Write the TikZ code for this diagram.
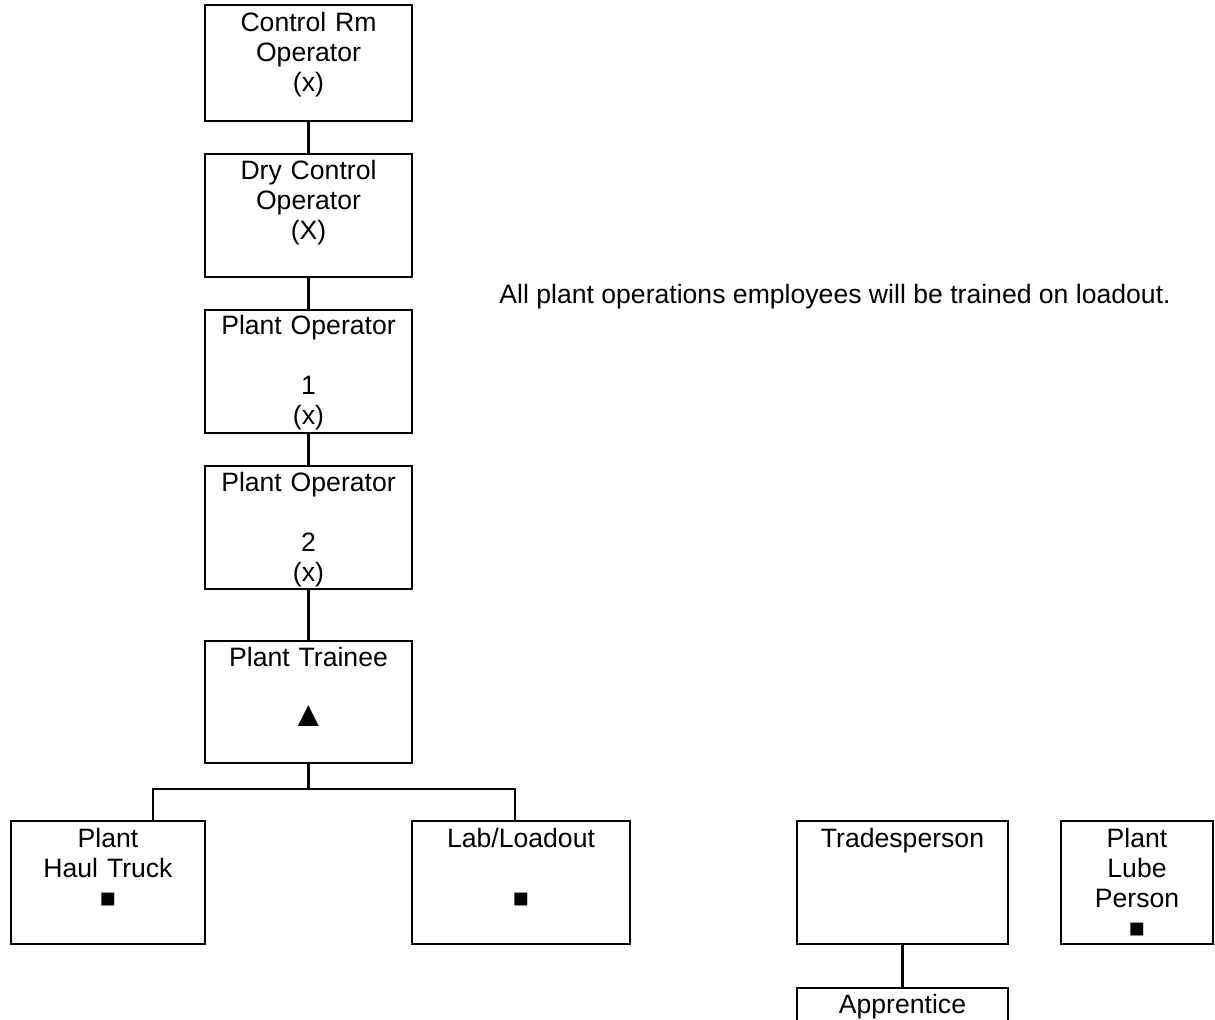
\documentclass[tikz,border=0pt]{standalone}
\usepackage{fontspec}
\setmainfont{Liberation Sans}
\begin{document}
\begin{tikzpicture}[x=0.5pt,y=-0.5pt,
  box/.style={draw, line width=1.2pt, outer sep=0pt, inner sep=0pt, anchor=north west},
  lbl/.style={anchor=base, align=center, text width=100pt, inner sep=0pt, font=\fontsize{13.3}{15}\selectfont},
  wire/.style={line width=1.2pt}]
\useasboundingbox (0,0) rectangle (1215,1020);
\clip (0,0) rectangle (1215,1020);
% boxes
\node[box, minimum width=103.5pt, minimum height=58pt]   (n1) at (205,5) {};
\node[box, minimum width=103.5pt, minimum height=61.5pt] (n2) at (205,154) {};
\node[box, minimum width=103.5pt, minimum height=61.5pt] (n3) at (205,310) {};
\node[box, minimum width=103.5pt, minimum height=61.5pt] (n4) at (205,466) {};
\node[box, minimum width=103.5pt, minimum height=61pt]   (n5) at (205,641) {};
\node[box, minimum width=97pt,    minimum height=61.5pt] (haul) at (11,821) {};
\node[box, minimum width=109pt,   minimum height=61.5pt] (lab) at (412,821) {};
\node[box, minimum width=105.5pt, minimum height=61.5pt] (trades) at (797,821) {};
\node[box, minimum width=76pt,    minimum height=61.5pt] (lube) at (1061,821) {};
\node[box, minimum width=105.5pt, minimum height=30pt]   (appr) at (797,988) {};
% labels
\node[lbl] (n1t) at ([yshift=-13.5pt]n1.north) {Control Rm\\Operator\\(x)};
\node[lbl] (n2t) at ([yshift=-13pt]n2.north) {Dry Control\\Operator\\(X)};
\node[lbl] (n3t) at ([yshift=-12.5pt]n3.north) {Plant Operator\\\mbox{}\\1\\(x)};
\node[lbl] (n4t) at ([yshift=-13pt]n4.north) {Plant Operator\\\mbox{}\\2\\(x)};
\node[lbl] (n5t) at ([yshift=-13pt]n5.north) {Plant Trainee\\\mbox{}\\\scalebox{1.35}{▲}};
\node[lbl] (hault) at ([yshift=-13pt]haul.north) {Plant\\Haul Truck\\■};
\node[lbl] (labt) at ([yshift=-13pt]lab.north) {Lab/Loadout\\\mbox{}\\■};
\node[lbl] (tradest) at ([yshift=-13pt]trades.north) {Tradesperson};
\node[lbl] (lubet) at ([yshift=-13pt]lube.north) {Plant\\Lube\\Person\\■};
\node[lbl] (apprt) at ([yshift=-12.5pt]appr.north) {Apprentice};
\node[anchor=base west, inner sep=0pt, font=\fontsize{13.3}{15}\selectfont] (note) at (499,304)
  {All plant operations employees will be trained on loadout.};
% connectors
\draw[wire] (n1.south) -- (n2.north);
\draw[wire] (n2.south) -- (n3.north);
\draw[wire] (n3.south) -- (n4.north);
\draw[wire] (n4.south) -- (n5.north);
\coordinate (bl) at (153,789);
\coordinate (br) at (515,789);
\draw[wire] (n5.south) -- (n5.south |- bl);
\draw[wire] (bl |- haul.north) -- (bl) -- (br) -- (br |- lab.north);
\draw[wire] (trades.south) -- (appr.north);
\end{tikzpicture}
\end{document}
